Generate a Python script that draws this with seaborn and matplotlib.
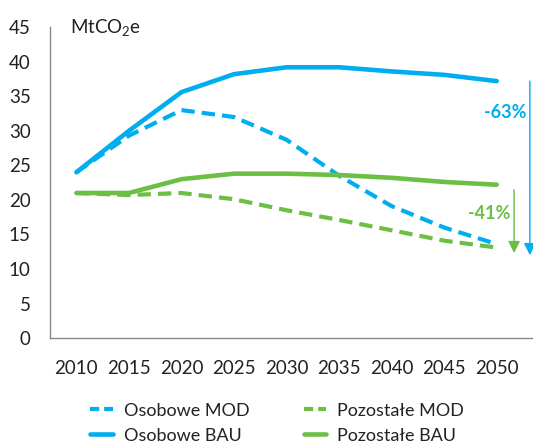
import numpy as np
import pandas as pd
import matplotlib
matplotlib.use('Agg')
import matplotlib.pyplot as plt
import seaborn as sns

# --- data ---
years = [2010, 2015, 2020, 2025, 2030, 2035, 2040, 2045, 2050]
osobowe_mod = [24.0, 29.3, 33.0, 32.0, 28.7, 23.5, 19.1, 16.0, 13.6]
osobowe_bau = [24.0, 30.0, 35.6, 38.2, 39.2, 39.2, 38.6, 38.1, 37.2]
pozostale_mod = [21.0, 20.7, 21.0, 20.1, 18.5, 17.1, 15.6, 14.1, 13.1]
pozostale_bau = [21.0, 21.0, 23.0, 23.8, 23.8, 23.6, 23.2, 22.6, 22.2]
yticks = [0, 5, 10, 15, 20, 25, 30, 35, 40, 45]

BLUE = '#00AEEF'
GREEN = '#6DBE45'
TXT = '#222222'

sns.set_style('white')
plt.rcParams['font.family'] = ['Lato', 'DejaVu Sans']
plt.rcParams['mathtext.fontset'] = 'custom'
plt.rcParams['mathtext.rm'] = 'Lato'
plt.rcParams['mathtext.it'] = 'Lato'

fig = plt.figure(figsize=(5.33, 4.46), dpi=100)
ax = fig.add_axes([0.094, 0.242, 0.906, 0.697])

x = np.arange(len(years))
series = [
    ('Osobowe MOD', osobowe_mod, BLUE, True),
    ('Osobowe BAU', osobowe_bau, BLUE, False),
    ('Pozostałe MOD', pozostale_mod, GREEN, True),
    ('Pozostałe BAU', pozostale_bau, GREEN, False),
]
for name, vals, col, dashed in series:
    df = pd.DataFrame({'x': x, 'y': vals})
    if dashed:
        sns.lineplot(data=df, x='x', y='y', ax=ax, color=col, lw=3.0,
                     label=name, linestyle=(0, (3.2, 1.7)))
    else:
        sns.lineplot(data=df, x='x', y='y', ax=ax, color=col, lw=3.3, label=name)

ax.set_xlim(-0.5, 8.69)
ax.set_ylim(0, 45)
ax.set_xticks(x)
ax.set_xticklabels([str(y) for y in years])
ax.set_yticks(yticks)
ax.set_xlabel('')
ax.set_ylabel('')
ax.tick_params(axis='both', length=0, labelsize=13.5, colors=TXT)
ax.tick_params(axis='y', pad=14)
ax.tick_params(axis='x', pad=16)
for s in ['top', 'right']:
    ax.spines[s].set_visible(False)
for s in ['left', 'bottom']:
    ax.spines[s].set_color('#888888')
    ax.spines[s].set_linewidth(1.0)

ax.text(-0.13, 45, r'MtCO$_2$e', fontsize=13.5, color=TXT, va='center', ha='left')

# reduction arrows
ax.annotate('', xy=(8.63, 12.0), xytext=(8.63, osobowe_bau[-1]),
            arrowprops=dict(arrowstyle='-|>', color=BLUE, lw=1.0,
                            mutation_scale=18, shrinkA=0, shrinkB=0),
            annotation_clip=False)
ax.text(8.56, 32.6, '-63%', color=BLUE, fontsize=13, fontweight='bold',
        ha='right', va='center')
ax.annotate('', xy=(8.33, 12.3), xytext=(8.33, 21.5),
            arrowprops=dict(arrowstyle='-|>', color=GREEN, lw=1.0,
                            mutation_scale=18, shrinkA=0, shrinkB=0),
            annotation_clip=False)
ax.text(8.26, 18.0, '-41%', color=GREEN, fontsize=13, fontweight='bold',
        ha='right', va='center')

leg = ax.legend(loc='upper center', bbox_to_anchor=(0.47, -0.155), ncol=2,
                frameon=False, fontsize=13, handlelength=1.25,
                columnspacing=3.0, labelspacing=0.5, handletextpad=0.6)
for t in leg.get_texts():
    t.set_color(TXT)
for ln in leg.get_lines():
    if ln.get_linestyle() != '-':
        ln.set_linestyle((0, (2.2, 1.2)))

fig.savefig('out.png', dpi=100)
